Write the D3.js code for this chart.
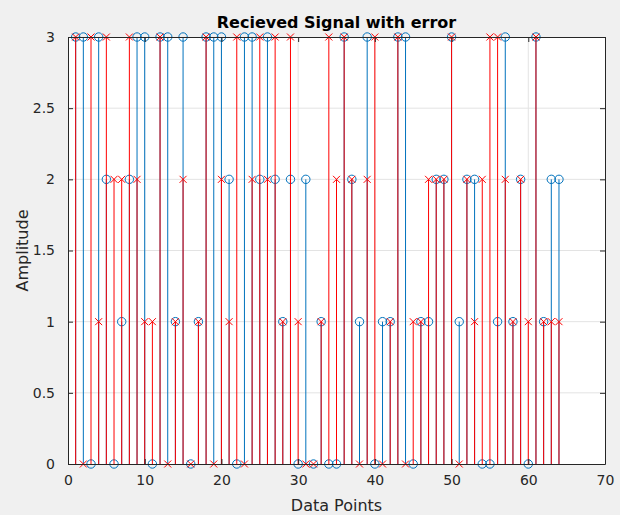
<!DOCTYPE html>
<html>
<head>
<meta charset="utf-8">
<script src="https://cdn.jsdelivr.net/npm/d3@7"></script>
<style>
  body { margin: 0; background: #f0f0f0; }
  svg { display: block; font-family: "DejaVu Sans", sans-serif; }
</style>
</head>
<body>
<svg id="chart" width="620" height="515"></svg>
<script>
// original signal (blue circles) and received signal with errors (red x)
const points = d3.range(1, 65);
const original = [3,3,0,3,2,0,1,2,3,3,0,3,3,1,3,0,1,3,3,3,2,0,3,3,2,3,2,1,2,0,2,0,
                  1,0,0,3,2,1,3,0,1,1,3,3,0,1,1,2,2,3,1,2,2,0,0,1,3,1,2,0,3,1,2,2];
const received = [3,0,3,1,3,2,2,3,2,1,1,3,0,1,2,0,1,3,0,2,1,3,0,2,3,2,3,1,3,1,0,0,
                  1,3,2,3,2,0,2,3,0,1,3,0,1,1,2,2,2,3,0,2,1,2,3,3,2,1,2,1,3,1,1,1];
const xTicks = [0, 10, 20, 30, 40, 50, 60, 70];
const yTicks = [0, 0.5, 1, 1.5, 2, 2.5, 3];

const svg = d3.select("#chart");
const box = { left: 68, right: 605, top: 37, bottom: 464 };

const x = d3.scaleLinear().domain([0, 70]).range([box.left, box.right]);
const y = d3.scaleLinear().domain([0, 3]).range([box.bottom, box.top]);

// axes background
svg.append("rect")
    .attr("x", box.left).attr("y", box.top)
    .attr("width", box.right - box.left).attr("height", box.bottom - box.top)
    .attr("fill", "#fff");

// grid
svg.append("g").selectAll("line")
    .data(xTicks.slice(1, -1))
    .join("line")
    .attr("x1", d => x(d)).attr("x2", d => x(d))
    .attr("y1", box.top).attr("y2", box.bottom)
    .attr("stroke", "#e3e3e3");
svg.append("g").selectAll("line")
    .data(yTicks.slice(1, -1))
    .join("line")
    .attr("x1", box.left).attr("x2", box.right)
    .attr("y1", d => y(d)).attr("y2", d => y(d))
    .attr("stroke", "#e3e3e3");

function stems(values, color) {
    svg.append("g").selectAll("line")
        .data(points)
        .join("line")
        .attr("x1", d => x(d)).attr("x2", d => x(d))
        .attr("y1", y(0)).attr("y2", (d, i) => y(values[i]))
        .attr("stroke", color)
        .attr("stroke-width", 1);
}

// blue stems + circles
stems(original, "#0072bd");
svg.append("g").selectAll("circle")
    .data(points)
    .join("circle")
    .attr("cx", d => x(d))
    .attr("cy", (d, i) => y(original[i]))
    .attr("r", 4.2)
    .attr("fill", "none")
    .attr("stroke", "#0072bd")
    .attr("stroke-width", 1);

// red stems + crosses
stems(received, "#ff0000");
const s = 3.5;
svg.append("g").selectAll("path")
    .data(points)
    .join("path")
    .attr("transform", (d, i) => `translate(${x(d)},${y(received[i])})`)
    .attr("d", `M${-s},${-s}L${s},${s}M${-s},${s}L${s},${-s}`)
    .attr("stroke", "#ff0000")
    .attr("stroke-width", 1)
    .attr("fill", "none");

// axes
const axisColor = "#262626";
const xAxis = svg.append("g")
    .attr("transform", `translate(0,${box.bottom})`)
    .call(d3.axisBottom(x).tickValues(xTicks).tickSizeInner(-5).tickSizeOuter(0).tickPadding(11));
const xTop = svg.append("g")
    .attr("transform", `translate(0,${box.top})`)
    .call(d3.axisTop(x).tickValues(xTicks).tickSizeInner(-5).tickSizeOuter(0).tickFormat(""));
const yAxis = svg.append("g")
    .attr("transform", `translate(${box.left},0)`)
    .call(d3.axisLeft(y).tickValues(yTicks).tickSizeInner(-5).tickSizeOuter(0).tickPadding(13).tickFormat(d3.format("")));
const yRight = svg.append("g")
    .attr("transform", `translate(${box.right},0)`)
    .call(d3.axisRight(y).tickValues(yTicks).tickSizeInner(-5).tickSizeOuter(0).tickFormat(""));

[xAxis, xTop, yAxis, yRight].forEach(g => {
    g.select(".domain").attr("stroke", axisColor);
    g.selectAll(".tick line").attr("stroke", axisColor);
    g.selectAll(".tick text")
        .attr("fill", axisColor)
        .style("font-size", "14px")
        .style("font-family", '"DejaVu Sans", sans-serif');
});

// titles
svg.append("text")
    .attr("x", (box.left + box.right) / 2).attr("y", 28)
    .attr("text-anchor", "middle")
    .style("font-size", "16px").style("font-weight", "bold")
    .attr("fill", "#000")
    .text("Recieved Signal with error");

svg.append("text")
    .attr("x", (box.left + box.right) / 2).attr("y", 511)
    .attr("text-anchor", "middle")
    .style("font-size", "16px")
    .attr("fill", axisColor)
    .text("Data Points");

svg.append("text")
    .attr("transform", `translate(28,${(box.top + box.bottom) / 2}) rotate(-90)`)
    .attr("text-anchor", "middle")
    .style("font-size", "16px")
    .attr("fill", axisColor)
    .text("Amplitude");
</script>
</body>
</html>
